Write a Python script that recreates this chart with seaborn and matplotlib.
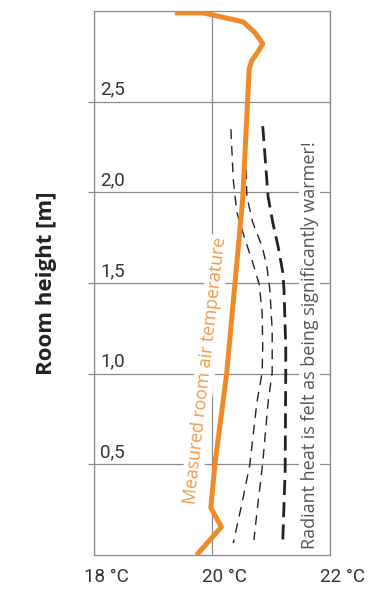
import matplotlib
matplotlib.use("Agg")
import matplotlib.pyplot as plt
import seaborn as sns
import pandas as pd

# measured room air temperature (°C) vs. room height (m)
air_temp = [19.37, 19.85, 20.53, 20.73, 20.86, 20.78, 20.67, 20.63, 20.52, 20.39, 20.25, 20.05, 19.98, 20.16, 19.74]
air_height = [2.99, 2.99, 2.94, 2.88, 2.82, 2.775, 2.725, 2.68, 1.96, 1.50, 1.005, 0.50, 0.26, 0.155, 0.0]

# felt temperature curves (dashed)
felt1_temp = [20.32, 20.36, 20.42, 20.56, 20.69, 20.80, 20.85, 20.86, 20.85, 20.76, 20.64, 20.51, 20.36]
felt1_height = [2.348, 2.072, 1.890, 1.740, 1.613, 1.492, 1.337, 1.149, 1.006, 0.840, 0.497, 0.287, 0.066]

felt2_temp = [20.58, 20.59, 20.69, 20.85, 20.93, 20.98, 21.02, 21.02, 20.95, 20.86, 20.78, 20.71]
felt2_height = [2.127, 1.978, 1.834, 1.702, 1.591, 1.464, 1.243, 1.006, 0.840, 0.508, 0.287, 0.083]

felt3_temp = [20.86, 20.95, 21.03, 21.12, 21.20, 21.22, 21.25, 21.25, 21.24, 21.20]
felt3_height = [2.365, 1.978, 1.834, 1.702, 1.558, 1.464, 1.149, 1.006, 0.470, 0.083]

x_ticks = [18, 20, 22]
x_labels = ["18 °C", "20 °C", "22 °C"]
y_ticks = [0.5, 1.0, 1.5, 2.0, 2.5]
y_labels = ["0,5", "1,0", "1,5", "2,0", "2,5"]

sns.set_style("white")
plt.rcParams["font.family"] = ["Roboto", "DejaVu Sans"]

fig = plt.figure(figsize=(3.81, 6.0), dpi=100)
ax = fig.add_axes([94 / 381, 45 / 600, 236 / 381, 544 / 600])

orange = "#EF8A26"
grid_c = "#8a8a8a"

df_air = pd.DataFrame({"t": air_temp, "h": air_height})
sns.lineplot(data=df_air, x="t", y="h", sort=False, estimator=None, ax=ax,
             color=orange, lw=3.6, solid_capstyle="butt", zorder=5)

for t, h, lw, dash in [(felt1_temp, felt1_height, 1.0, (7, 5)),
                       (felt2_temp, felt2_height, 1.0, (7, 5)),
                       (felt3_temp, felt3_height, 2.0, (5.4, 2.6))]:
    d = pd.DataFrame({"t": t, "h": h})
    sns.lineplot(data=d, x="t", y="h", sort=False, estimator=None, ax=ax,
                 color="#222222", lw=lw, dashes=False, zorder=4)
    ax.lines[-1].set_dashes(dash)

ax.set_xlim(18, 22)
ax.set_ylim(0, 3.0)
ax.set_xticks(x_ticks)
ax.set_yticks(y_ticks)
ax.set_xticklabels([])
ax.set_yticklabels([])
ax.set_xlabel("")
ax.set_ylabel("")
ax.grid(True, color=grid_c, lw=0.9)
ax.tick_params(axis="x", length=0)
ax.tick_params(axis="y", length=4, width=0.9, color=grid_c, direction="out", left=True)
for s in ax.spines.values():
    s.set_color(grid_c)
    s.set_linewidth(0.9)

for v, lab in zip(y_ticks, y_labels):
    ax.annotate(lab, xy=(18, v), xytext=(6, 7), textcoords="offset pixels",
                ha="left", va="baseline", fontsize=13.5, color="#333333")
for v, lab in zip(x_ticks, x_labels):
    ax.annotate(lab, xy=(v, 0), xycoords=("data", "axes fraction"),
                xytext=(-10, -22), textcoords="offset pixels",
                ha="left", va="center", fontsize=13.5, color="#333333")

fig.text(47 / 381, 1 - 283 / 600, "Room height [m]", rotation=90, ha="center", va="center",
         fontsize=16, fontweight="bold", family=["Open Sans", "DejaVu Sans"], color="#222222")

ax.text(19.88, 1.02, "Measured room air temperature", rotation=83.5,
        rotation_mode="anchor", ha="center", va="center", fontsize=12.8,
        family=["Open Sans", "DejaVu Sans"], color="#F29A48", zorder=3,
        bbox=dict(facecolor="white", edgecolor="none", pad=1.0))
ax.text(21.66, 1.16, "Radiant heat is felt as being significantly warmer!", rotation=90,
        ha="center", va="center", fontsize=13,
        family=["Open Sans", "DejaVu Sans"], color="#555555", zorder=3,
        bbox=dict(facecolor="white", edgecolor="none", pad=1.0))

fig.savefig("out.png", dpi=100)
